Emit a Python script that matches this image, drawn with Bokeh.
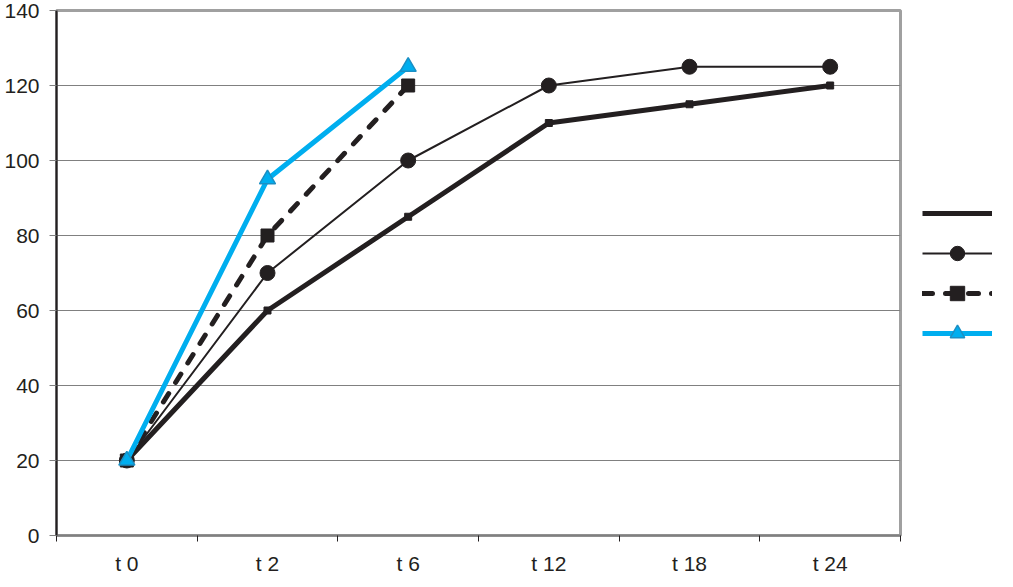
from bokeh.plotting import figure
from bokeh.models import FixedTicker, Range1d, Legend, LegendItem
from bokeh.embed import file_html
from bokeh.resources import INLINE

categories = ["t 0", "t 2", "t 6", "t 12", "t 18", "t 24"]
series_a = [20, 60, 85, 110, 115, 120]
series_b = [20, 70, 100, 120, 125, 125]
series_c = [20, 80, 120]
series_d = [20, 95, 125]
y_ticks = [0, 20, 40, 60, 80, 100, 120, 140]

xs = [i + 0.5 for i in range(len(categories))]
bounds = list(range(len(categories) + 1))

FONT = "Liberation Sans"
BLACK = "#231f20"
CYAN = "#00aeef"

p = figure(frame_width=844, frame_height=525, output_backend="svg", toolbar_location=None,
           x_range=Range1d(0, len(categories)), y_range=Range1d(0, 140),
           min_border_left=56, min_border_top=10, min_border_bottom=36, min_border_right=97,
           background_fill_color="white", border_fill_color="white")

p.outline_line_color = "#a0a0a0"
p.outline_line_width = 3

# x axis
xa = p.xaxis[0]
xa.ticker = FixedTicker(ticks=xs, minor_ticks=bounds)
xa.major_label_overrides = {x: c for x, c in zip(xs, categories)}
xa.major_tick_out = 0
xa.major_tick_in = 0
xa.minor_tick_out = 6
xa.minor_tick_in = 0
xa.minor_tick_line_color = BLACK
xa.axis_line_color = "#808080"
xa.axis_line_width = 2
xa.major_label_standoff = 10
xa.major_label_text_font = FONT
xa.major_label_text_font_size = "21px"
xa.major_label_text_color = BLACK

# y axis
ya = p.yaxis[0]
ya.ticker = FixedTicker(ticks=y_ticks)
ya.minor_tick_line_color = None
ya.major_tick_out = 7
ya.major_tick_in = 0
ya.major_tick_line_color = "#808080"
ya.axis_line_color = BLACK
ya.axis_line_width = 2
ya.major_label_standoff = 10
ya.major_label_text_font = FONT
ya.major_label_text_font_size = "21px"
ya.major_label_text_color = BLACK

p.xgrid.grid_line_color = None
p.ygrid.grid_line_color = "#808080"
p.ygrid.grid_line_width = 1

# series A: thick black, small squares
la = p.line(xs, series_a, line_color=BLACK, line_width=5)
ma = p.scatter(xs, series_a, marker="square", size=7, fill_color=BLACK, line_color=BLACK)

# series B: thin black, circles
lb = p.line(xs, series_b, line_color=BLACK, line_width=2)
mb = p.scatter(xs, series_b, marker="circle", size=15, fill_color=BLACK, line_color=BLACK)

# series C: dashed black, squares
xc = xs[:len(series_c)]
lc = p.line(xc, series_c, line_color=BLACK, line_width=5, line_dash="10 13", line_cap="round")
mc = p.scatter(xc, series_c, marker="square", size=13, fill_color=BLACK, line_color=BLACK)

# series D: cyan, triangles
xd = xs[:len(series_d)]
ld = p.line(xd, series_d, line_color=CYAN, line_width=5)
md = p.scatter(xd, series_d, marker="triangle", size=16, fill_color=CYAN, line_color="#1b8fc4", line_width=1.5)

legend = Legend(items=[
    LegendItem(label=" ", renderers=[la]),
    LegendItem(label=" ", renderers=[lb, mb]),
    LegendItem(label=" ", renderers=[lc, mc]),
    LegendItem(label=" ", renderers=[ld, md]),
], location="center_left", glyph_width=70, glyph_height=36, spacing=4, padding=0, margin=22,
   label_standoff=0, label_width=0, label_text_font_size="1px", label_text_alpha=0,
   border_line_alpha=0, background_fill_alpha=0)
p.add_layout(legend, "right")

open("out.html", "w").write(file_html(p, INLINE))
